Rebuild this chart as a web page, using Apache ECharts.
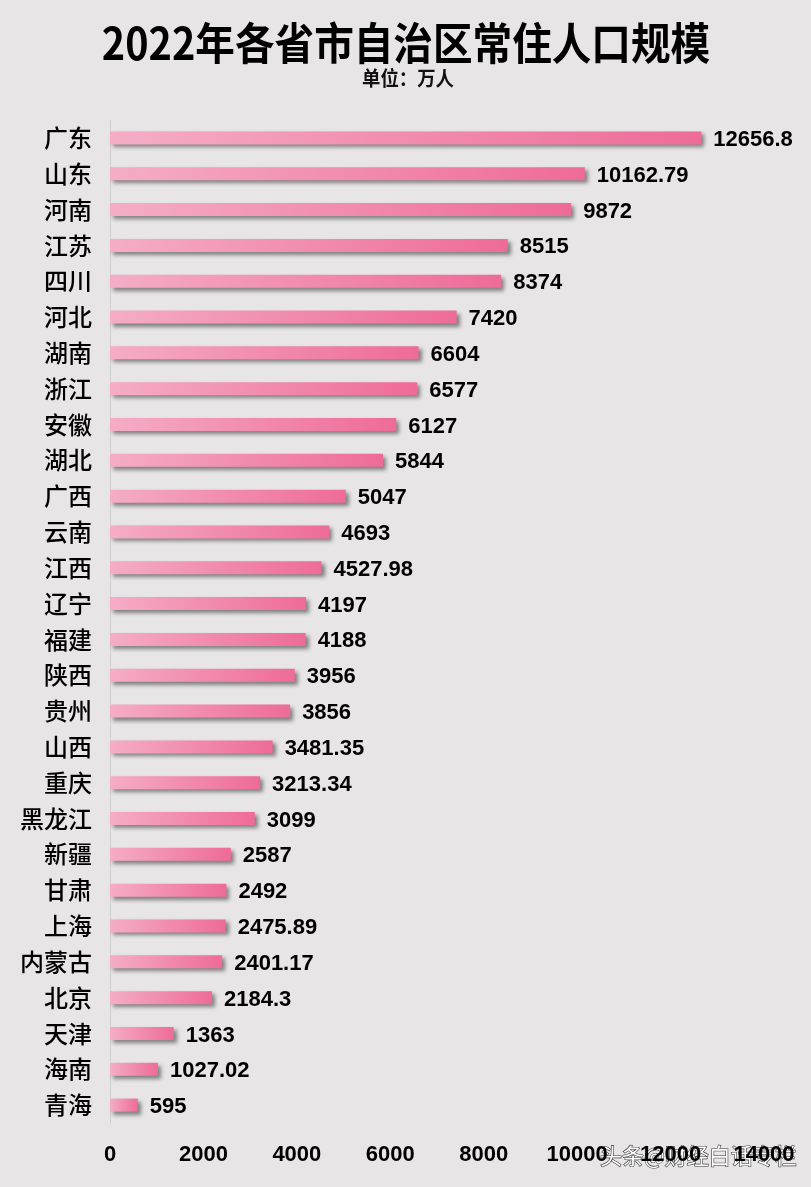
<!DOCTYPE html>
<html><head><meta charset="utf-8">
<script src="https://cdn.jsdelivr.net/npm/echarts@6/dist/echarts.min.js"></script>
<style>html,body{margin:0;padding:0;background:#e7e5e5;}#c{width:811px;height:1187px;}</style>
</head><body><div id="c"></div>
<script>
const provinces = ["广东","山东","河南","江苏","四川","河北","湖南","浙江","安徽","湖北","广西","云南","江西","辽宁","福建","陕西","贵州","山西","重庆","黑龙江","新疆","甘肃","上海","内蒙古","北京","天津","海南","青海"];
const population = [12656.8,10162.79,9872,8515,8374,7420,6604,6577,6127,5844,5047,4693,4527.98,4197,4188,3956,3856,3481.35,3213.34,3099,2587,2492,2475.89,2401.17,2184.3,1363,1027.02,595];
const xTicks = [0,2000,4000,6000,8000,10000,12000,14000];
const titleText = '2022年各省市自治区常住人口规模';
const subText = '单位：万人';
const watermark = '头条@财经白话专栏';

const chart = echarts.init(document.getElementById('c'));
chart.setOption({
  backgroundColor:'#e7e5e5',
  grid:{left:110,right:47,top:120,bottom:64},
  xAxis:{type:'value',min:0,max:14000,interval:2000,
    axisLine:{show:false},axisTick:{show:false},splitLine:{show:false},
    axisLabel:{margin:21,fontSize:22,fontWeight:'bold',color:'#000',fontFamily:'"Liberation Sans"',
      formatter:v=>xTicks.includes(v)?String(v):''}},
  yAxis:{type:'category',data:provinces,inverse:true,
    axisLine:{show:true,lineStyle:{color:'#cfcfcf',width:1}},axisTick:{show:false},
    axisLabel:{margin:18,fontSize:24,fontWeight:500,color:'#000',fontFamily:'"Noto Sans CJK SC"'}},
  series:[{type:'bar',data:population,barWidth:13,
    itemStyle:{color:new echarts.graphic.LinearGradient(0,0,1,0,[{offset:0,color:'#f5adc6'},{offset:1,color:'#ee6b98'}]),
      shadowColor:'rgba(60,60,60,0.6)',shadowBlur:4,shadowOffsetX:3,shadowOffsetY:3},
    label:{show:true,position:'right',distance:12,offset:[0,2],fontSize:22,fontWeight:'bold',color:'#000',
      fontFamily:'"Liberation Sans"',formatter:p=>String(p.value)}}],
  graphic:[
    {type:'text',x:406,y:43,scaleX:0.9,style:{text:titleText,align:'center',verticalAlign:'middle',fontSize:44,fontWeight:'bold',fill:'#000',fontFamily:'"Noto Sans CJK SC"'}},
    {type:'text',x:408,y:78,scaleX:0.92,style:{text:subText,align:'center',verticalAlign:'middle',fontSize:20,fontWeight:'bold',fill:'#111',fontFamily:'"Noto Sans CJK SC"'}},
    {type:'text',x:600,y:1145,style:{text:watermark,fontSize:22,fill:'#fff',stroke:'#333',lineWidth:1.2,fontFamily:'"Noto Sans CJK SC"'}}
  ]
});
</script></body></html>
